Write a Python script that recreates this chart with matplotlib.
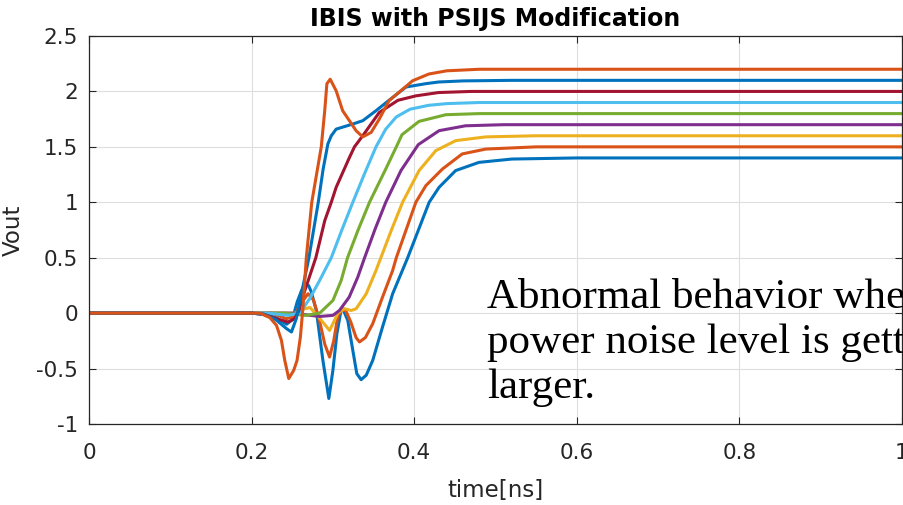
import matplotlib
matplotlib.use("Agg")
import matplotlib.pyplot as plt

# MATLAB default line colours, in plotting order
colors = ['#0072BD', '#D95319', '#EDB120', '#7E2F8E', '#77AC30',
          '#4DBEEE', '#A2142F', '#0072BD', '#D95319']

# waveforms: time in ns, Vout in V
t1 = [0, 0.2, 0.215, 0.23, 0.243, 0.25, 0.256, 0.2612, 0.2653, 0.27, 0.2735, 0.2796, 0.2877, 0.295, 0.300,
      0.3049, 0.310, 0.3122, 0.3183, 0.3245, 0.3294, 0.3347, 0.341, 0.349, 0.361, 0.3735, 0.392, 0.4184,
      0.4306, 0.451, 0.4796, 0.52, 0.6, 1.0]
v1 = [0, 0, -0.01, -0.04, -0.1, -0.06, 0.1, 0.2, 0.265, 0.25, 0.19, 0.024, -0.426, -0.77, -0.516,
      -0.186, 0.024, 0.04, -0.066, -0.336, -0.546, -0.6, -0.56, -0.426, -0.126, 0.175, 0.5, 1.0,
      1.135, 1.286, 1.36, 1.39, 1.4, 1.4]

t2 = [0, 0.225, 0.243, 0.252, 0.26, 0.2694, 0.276, 0.283, 0.29, 0.2959, 0.301, 0.306, 0.311, 0.316, 0.322,
      0.3285, 0.3327, 0.34, 0.349, 0.361, 0.3735, 0.378, 0.39, 0.402, 0.4143, 0.4347, 0.459, 0.488, 0.55, 1.0]
v2 = [0, 0, -0.05, -0.03, 0.08, 0.175, 0.12, -0.05, -0.28, -0.396, -0.25, -0.03, 0.03, 0.02, -0.08,
      -0.22, -0.26, -0.22, -0.095, 0.144, 0.385, 0.5, 0.75, 1.0, 1.15, 1.3, 1.436, 1.48, 1.5, 1.5]

t3 = [0, 0.24, 0.255, 0.265, 0.272, 0.283, 0.2959, 0.301, 0.306, 0.314, 0.3225, 0.3286, 0.341, 0.353,
      0.359, 0.372, 0.3857, 0.406, 0.4266, 0.451, 0.488, 0.55, 1.0]
v3 = [0, 0, 0, 0.04, 0.05, -0.04, -0.156, -0.08, 0, 0.04, 0.024, 0.04, 0.175, 0.385,
      0.5, 0.75, 1.0, 1.286, 1.466, 1.556, 1.59, 1.6, 1.6]

t4 = [0, 0.25, 0.2837, 0.300, 0.308, 0.320, 0.3306, 0.339, 0.352, 0.365, 0.3837, 0.405, 0.4306, 0.463, 0.51, 1.0]
v4 = [0, 0, -0.03, -0.02, 0.024, 0.144, 0.325, 0.5, 0.76, 1.0, 1.286, 1.52, 1.646, 1.69, 1.7, 1.7]

t5 = [0, 0.24, 0.267, 0.2837, 0.300, 0.3102, 0.318, 0.331, 0.345, 0.365, 0.378, 0.385, 0.406, 0.439, 0.48, 1.0]
v5 = [0, 0, -0.02, 0, 0.114, 0.295, 0.5, 0.75, 1.0, 1.3, 1.5, 1.61, 1.73, 1.79, 1.8, 1.8]

t6 = [0, 0.22, 0.245, 0.259, 0.2714, 0.2837, 0.298, 0.311, 0.3245, 0.339, 0.353, 0.365, 0.378, 0.395,
      0.418, 0.44, 0.48, 1.0]
v6 = [0, 0, -0.02, 0, 0.13, 0.295, 0.5, 0.75, 1.0, 1.26, 1.5, 1.66, 1.77, 1.84,
      1.875, 1.89, 1.9, 1.9]

t7 = [0, 0.2, 0.215, 0.2306, 0.2449, 0.253, 0.258, 0.2653, 0.279, 0.29, 0.298, 0.304, 0.3204, 0.3265,
      0.3367, 0.357, 0.38, 0.402, 0.43, 0.47, 1.0]
v7 = [0, 0, -0.01, -0.05, -0.08, -0.05, 0.02, 0.2, 0.5, 0.835, 1.0, 1.135, 1.405, 1.5,
      1.60, 1.81, 1.92, 1.96, 1.99, 2.0, 2.0]

t8 = [0, 0.2, 0.215, 0.23, 0.243, 0.249, 0.255, 0.262, 0.2705, 0.282, 0.288, 0.2938, 0.298, 0.304, 0.3245,
      0.3367, 0.353, 0.369, 0.39, 0.4143, 0.43, 0.46, 0.52, 1.0]
v8 = [0, 0, -0.01, -0.06, -0.14, -0.17, -0.05, 0.2, 0.5, 1.0, 1.3, 1.526, 1.6, 1.66, 1.706,
      1.736, 1.826, 1.92, 2.04, 2.07, 2.085, 2.095, 2.1, 2.1]

t9 = [0, 0.2, 0.21, 0.2224, 0.2306, 0.2367, 0.2408, 0.2457, 0.2518, 0.2559, 0.260, 0.2632, 0.2673, 0.274,
      0.2857, 0.29, 0.2926, 0.2967, 0.304, 0.312, 0.3204, 0.3286, 0.3367, 0.347, 0.357, 0.369, 0.3857,
      0.398, 0.418, 0.44, 0.48, 0.55, 1.0]
v9 = [0, 0, 0, -0.04, -0.11, -0.246, -0.426, -0.59, -0.516, -0.426, -0.216, 0.054, 0.5, 1.0,
      1.5, 1.83, 2.07, 2.11, 2.006, 1.826, 1.735, 1.645, 1.59, 1.63, 1.75, 1.916, 2.02,
      2.096, 2.157, 2.186, 2.2, 2.2, 2.2]

times = [t1, t2, t3, t4, t5, t6, t7, t8, t9]
vouts = [v1, v2, v3, v4, v5, v6, v7, v8, v9]

xticks = [0, 0.2, 0.4, 0.6, 0.8, 1]
xtick_labels = ['0', '0.2', '0.4', '0.6', '0.8', '1']
yticks = [-1, -0.5, 0, 0.5, 1, 1.5, 2, 2.5]
ytick_labels = ['-1', '-0.5', '0', '0.5', '1', '1.5', '2', '2.5']

title = 'IBIS with PSIJS Modification'
note = 'Abnormal behavior when\npower noise level is getting\nlarger.'

dark = '#262626'

fig = plt.figure(figsize=(9.04, 5.05), dpi=100)
ax = fig.add_axes([89 / 904, 1 - 424 / 505, 813 / 904, 388 / 505])

for t, v, c in zip(times, vouts, colors):
    ax.plot(t, v, color=c, linewidth=2.2, solid_joinstyle='round')

ax.set_xlim(0, 1)
ax.set_ylim(-1, 2.5)
ax.set_xticks(xticks)
ax.set_xticklabels(xtick_labels)
ax.set_yticks(yticks)
ax.set_yticklabels(ytick_labels)

ax.grid(True, color='#dedede', linewidth=0.8)
ax.set_axisbelow(True)
for s in ax.spines.values():
    s.set_color(dark)
    s.set_linewidth(0.9)

ax.tick_params(direction='in', length=5, width=0.8, top=True, right=True,
               colors=dark, labelsize=15.5)
ax.tick_params(axis='x', pad=14)
ax.tick_params(axis='y', pad=8)

ax.set_title(title, fontsize=17, fontweight='bold', color='black', pad=7)
ax.set_xlabel('time[ns]', fontsize=16.5, color=dark, labelpad=11)
ax.set_ylabel('Vout', fontsize=16.5, color=dark, labelpad=8)

# multi-line text: baseline alignment goes by the last line
fig.text(487 / 904, 1 - 398 / 505, note, fontsize=31, color='black',
         family='Liberation Serif', ha='left', va='baseline', linespacing=1.22)

plt.savefig('out.png', dpi=100)
plt.close()
